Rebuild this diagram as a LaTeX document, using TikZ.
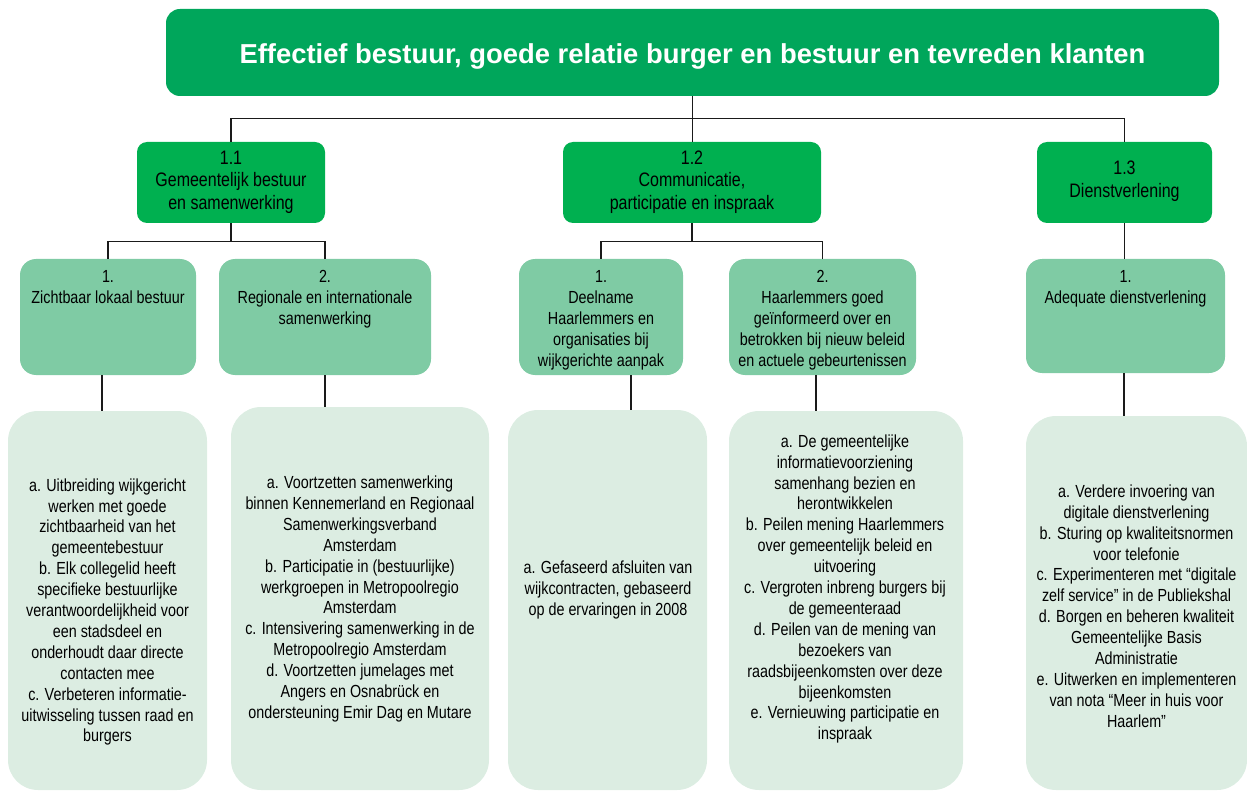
\documentclass[tikz,border=0pt]{standalone}
\usepackage{fontspec}
\setmainfont{Liberation Sans}
\newfontfamily\narrowfont[FakeStretch=0.82]{Liberation Sans}
\usetikzlibrary{fit}
\definecolor{topgreen}{HTML}{00A65B}
\definecolor{midgreen}{HTML}{00B050}
\definecolor{lightgreen}{HTML}{7FCBA4}
\definecolor{palegreen}{HTML}{DCEDE2}
\definecolor{linegray}{HTML}{1A1A1A}
\begin{document}
\begin{tikzpicture}[x=0.5pt,y=-0.5pt,
 topbox/.style={fill=topgreen, rounded corners=7pt, inner sep=0pt},
 goalbox/.style={fill=midgreen, rounded corners=5pt, inner sep=0pt},
 subbox/.style={fill=lightgreen, rounded corners=8pt, inner sep=0pt},
 actbox/.style={fill=palegreen, rounded corners=15pt, inner sep=0pt},
 titletext/.style={font=\fontsize{13.7}{16}\selectfont\bfseries, text=white, inner sep=0pt},
 goaltext/.style={font=\narrowfont\fontsize{9.75}{11.25}\selectfont, align=center, inner sep=0pt},
 bodytext/.style={font=\narrowfont\fontsize{8.75}{10.45}\selectfont, align=center, inner sep=0pt},
 conn/.style={draw=linegray, line width=0.75pt}]
\useasboundingbox (0,0) rectangle (1247,791);

% boxes
\node[topbox, fit={(166,9) (1219,96)}] (top) {};
\node[goalbox, fit={(137,142) (325,223)}] (g11) {};
\node[goalbox, fit={(563,142) (821,223)}] (g12) {};
\node[goalbox, fit={(1037,142) (1212,223)}] (g13) {};

\node[subbox, fit={(20,259) (196,375)}] (s111) {};
\node[subbox, fit={(219,259) (431,375)}] (s112) {};
\node[subbox, fit={(519,259) (683,375)}] (s121) {};
\node[subbox, fit={(729,259) (916,375)}] (s122) {};
\node[subbox, fit={(1026,259) (1225,373)}] (s131) {};

\node[actbox, fit={(8,411) (207,790)}] (c111) {};
\node[actbox, fit={(231,407) (489,790)}] (c112) {};
\node[actbox, fit={(508,410) (707,790)}] (c121) {};
\node[actbox, fit={(729,411) (963,790)}] (c122) {};
\node[actbox, fit={(1026,416) (1247,790)}] (c131) {};

% connectors
\draw[conn] (top.south) -- ++(0,22) coordinate (j0) -| (g11.north);
\draw[conn] (j0) -| (g13.north);
\draw[conn] (j0) -- (j0 |- g12.north);

\draw[conn] (g11.south) -- ++(0,18) coordinate (j1) -| (s111.north);
\draw[conn] (j1) -| (s112.north);
\draw[conn] (g12.south) -- ++(0,18) coordinate (j2) -| (s121.north);
\draw[conn] (j2) -| (s122.north);
\draw[conn] (g13.south) -- (g13.south |- s131.north);

\draw[conn] ([xshift=-3pt]s111.south) -- ([xshift=-3pt]s111.south |- c111.north);
\draw[conn] (s112.south) -- (s112.south |- c112.north);
\draw[conn] ([xshift=15pt]s121.south) -- ([xshift=15pt]s121.south |- c121.north);
\draw[conn] ([xshift=-3.25pt]s122.south) -- ([xshift=-3.25pt]s122.south |- c122.north);
\draw[conn] ([xshift=-0.75pt]s131.south) -- ([xshift=-0.75pt]s131.south |- c131.north);

% texts
\node[titletext, yshift=-2pt] (tt) at (top.center) {Effectief bestuur, goede relatie burger en bestuur en tevreden klanten};
\node[goaltext] (g11t) at (231,182) {1.1\\Gemeentelijk bestuur\\en samenwerking};
\node[goaltext] (g12t) at (692,182) {1.2\\Communicatie,\\participatie en inspraak};
\node[goaltext] (g13t) at (1124.5,181) {1.3\\Dienstverlening};

\node[bodytext, anchor=north] (s111t) at (108,270) {1.\\Zichtbaar lokaal bestuur};
\node[bodytext, anchor=north] (s112t) at (325,270) {2.\\Regionale en internationale\\samenwerking};
\node[bodytext, anchor=north] (s121t) at (601,270) {1.\\Deelname\\Haarlemmers en\\organisaties bij\\wijkgerichte aanpak};
\node[bodytext, anchor=north] (s122t) at (822.5,270) {2.\\Haarlemmers goed\\geïnformeerd over en\\betrokken bij nieuw beleid\\en actuele gebeurtenissen};
\node[bodytext, anchor=north] (s131t) at (1125.5,270) {1.\\Adequate dienstverlening};

\node[bodytext] (c111t) at (107.5,612) {a. Uitbreiding wijkgericht\\werken met goede\\zichtbaarheid van het\\gemeentebestuur\\b. Elk collegelid heeft\\specifieke bestuurlijke\\verantwoordelijkheid voor\\een stadsdeel en\\onderhoudt daar directe\\contacten mee\\c. Verbeteren informatie-\\uitwisseling tussen raad en\\burgers};
\node[bodytext] (c112t) at (360,599) {a. Voortzetten samenwerking\\binnen Kennemerland en Regionaal\\Samenwerkingsverband\\Amsterdam\\b. Participatie in (bestuurlijke)\\werkgroepen in Metropoolregio\\Amsterdam\\c. Intensivering samenwerking in de\\Metropoolregio Amsterdam\\d. Voortzetten jumelages met\\Angers en Osnabrück en\\ondersteuning Emir Dag en Mutare};
\node[bodytext] (c121t) at (608,590) {a. Gefaseerd afsluiten van\\wijkcontracten, gebaseerd\\op de ervaringen in 2008};
\node[bodytext] (c122t) at (845,589) {a. De gemeentelijke\\informatievoorziening\\samenhang bezien en\\herontwikkelen\\b. Peilen mening Haarlemmers\\over gemeentelijk beleid en\\uitvoering\\c. Vergroten inbreng burgers bij\\de gemeenteraad\\d. Peilen van de mening van\\bezoekers van\\raadsbijeenkomsten over deze\\bijeenkomsten\\e. Vernieuwing participatie en\\inspraak};
\node[bodytext] (c131t) at (1136.5,606) {a. Verdere invoering van\\digitale dienstverlening\\b. Sturing op kwaliteitsnormen\\voor telefonie\\c. Experimenteren met “digitale\\zelf service” in de Publiekshal\\d. Borgen en beheren kwaliteit\\Gemeentelijke Basis\\Administratie\\e. Uitwerken en implementeren\\van nota “Meer in huis voor\\Haarlem”};
\end{tikzpicture}
\end{document}
